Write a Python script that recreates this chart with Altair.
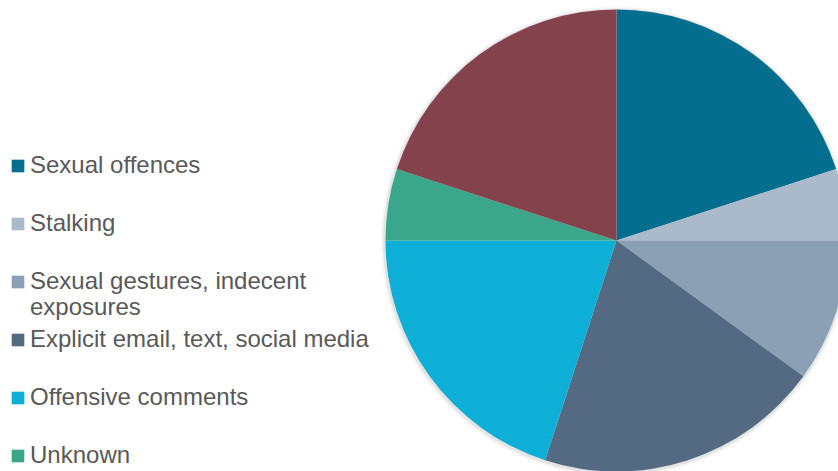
import altair as alt
import pandas as pd

categories = [
    "Sexual offences",
    "Stalking",
    "Sexual gestures, indecent exposures",
    "Explicit email, text, social media",
    "Offensive comments",
    "Unknown",
    "Other",
]
shares = [20, 5, 10, 20, 20, 5, 20]
colors = ["#046E8F", "#ABBACA", "#8BA0B5", "#546982", "#0DAFD6", "#3AA78A", "#84424D"]

df = pd.DataFrame({"category": categories, "share": shares, "order": list(range(len(categories)))})

label_expr = (
    "datum.label == 'Sexual gestures, indecent exposures' ? "
    "['Sexual gestures, indecent', 'exposures'] : datum.label"
)

base = alt.Chart(df)

shadow_outer = base.mark_arc(radius=235, stroke=None, opacity=0.035).encode(
    theta=alt.Theta("sum(share):Q"),
    x=alt.value(616.0),
    y=alt.value(241.5),
    color=alt.value("#000000"),
)
shadow_inner = base.mark_arc(radius=233, stroke=None, opacity=0.07).encode(
    theta=alt.Theta("sum(share):Q"),
    x=alt.value(616.0),
    y=alt.value(241.5),
    color=alt.value("#000000"),
)

pie = base.mark_arc(radius=231, stroke=None).encode(
    theta=alt.Theta("share:Q", stack=True),
    order=alt.Order("order:Q"),
    x=alt.value(616.5),
    y=alt.value(240.5),
    color=alt.Color(
        "category:N",
        scale=alt.Scale(domain=categories, range=colors),
        legend=alt.Legend(
            title=None,
            orient="none",
            legendX=6,
            legendY=154,
            symbolType="square",
            symbolSize=160,
            symbolStrokeWidth=0,
            labelFont="Liberation Sans",
            labelFontSize=24,
            labelColor="#595959",
            labelOffset=0,
            labelLimit=500,
            gridAlign="all",
            rowPadding=8,
            labelExpr=label_expr,
        ),
    ),
)

chart = (
    alt.layer(shadow_outer, shadow_inner, pie)
    .properties(width=838, height=471, autosize=alt.AutoSizeParams(type="none"), padding=0)
    .configure_view(stroke=None)
)

chart.save("out.html", embed_options={"renderer": "svg", "actions": False})
